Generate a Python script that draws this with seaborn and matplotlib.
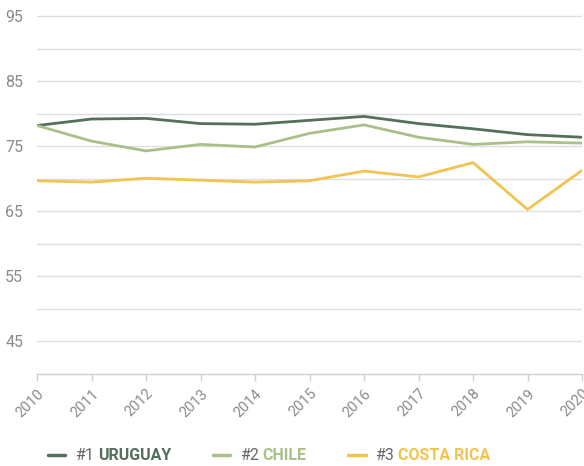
import matplotlib
matplotlib.use("Agg")
import matplotlib.pyplot as plt
import seaborn as sns
import pandas as pd
import numpy as np

years = [2010, 2011, 2012, 2013, 2014, 2015, 2016, 2017, 2018, 2019, 2020]
uruguay = [78.2, 79.2, 79.3, 78.5, 78.4, 79.0, 79.6, 78.5, 77.7, 76.8, 76.4]
chile = [78.2, 75.8, 74.3, 75.3, 74.9, 77.0, 78.3, 76.4, 75.3, 75.7, 75.5]
costa_rica = [69.7, 69.5, 70.1, 69.8, 69.5, 69.7, 71.2, 70.3, 72.5, 65.3, 71.3]
countries = ["URUGUAY", "CHILE", "COSTA RICA"]
ranks = ["#1", "#2", "#3"]
colors = ["#54705d", "#a9c088", "#f1c452"]
y_ticks = [45, 55, 65, 75, 85, 95]

sns.set_theme(style="white")
plt.rcParams["font.family"] = ["Roboto", "DejaVu Sans"]

df = pd.DataFrame({
    "year": years * 3,
    "value": uruguay + chile + costa_rica,
    "country": [countries[0]] * 11 + [countries[1]] * 11 + [countries[2]] * 11,
})

fig = plt.figure(figsize=(5.84, 4.66), dpi=100)
ax = fig.add_axes([37 / 584, 1 - 374 / 466, 545 / 584, 374 / 466])
sns.lineplot(data=df, x="year", y="value", hue="country", hue_order=countries,
             palette=colors, linewidth=2.0, legend=False, ax=ax)
ax.set_xlim(2010, 2020)
ax.set_ylim(40, 97.5)
ax.set_xlabel("")
ax.set_ylabel("")
ax.set_yticks(y_ticks)
ax.set_yticks([50, 60, 70, 80, 90], minor=True)
ax.set_xticks(years)
ax.set_xticklabels([str(y) for y in years], rotation=45, ha="right", rotation_mode="anchor")
ax.grid(True, which="both", axis="y", color="#dedede", linewidth=1.0)
ax.set_axisbelow(True)
for s in ["top", "right", "left"]:
    ax.spines[s].set_visible(False)
ax.spines["bottom"].set_color("#cfcfcf")
ax.spines["bottom"].set_linewidth(1.0)
ax.tick_params(axis="y", which="both", length=0, pad=10, labelsize=11.5, labelcolor="#8a8a8a")
ax.tick_params(axis="x", length=5, width=1, color="#cfcfcf", pad=4, labelsize=10.5,
               labelcolor="#8a8a8a", direction="out", bottom=True)

fs = 11.5
lines = ax.get_lines()[:3]
full = [f"{r} {c}" for r, c in zip(ranks, countries)]
leg = fig.legend(lines, full, loc="center", bbox_to_anchor=(269 / 584, 1 - 456 / 466),
                 ncol=3, frameon=False, handlelength=1.1, handletextpad=0.6,
                 columnspacing=2.6, prop={"size": fs, "weight": "bold"})
for ln in leg.get_lines():
    ln.set_linewidth(2.5)
for t in leg.get_texts():
    t.set_alpha(0)

fig.canvas.draw()
r = fig.canvas.get_renderer()
inv = fig.transFigure.inverted()
for t, rk, name, c in zip(leg.get_texts(), ranks, countries, colors):
    bb = t.get_window_extent(r)
    x0, y0 = inv.transform((bb.x0, (bb.y0 + bb.y1) / 2))
    rt = fig.text(x0, y0, rk, color="#666666", fontsize=fs, va="center", ha="left")
    fig.canvas.draw()
    bb2 = rt.get_window_extent(r)
    x1, _ = inv.transform((bb2.x1 + 4, 0))
    fig.text(x1, y0, name, color=c, fontsize=fs, fontweight="bold", va="center", ha="left")

fig.savefig("out.png", dpi=100)
